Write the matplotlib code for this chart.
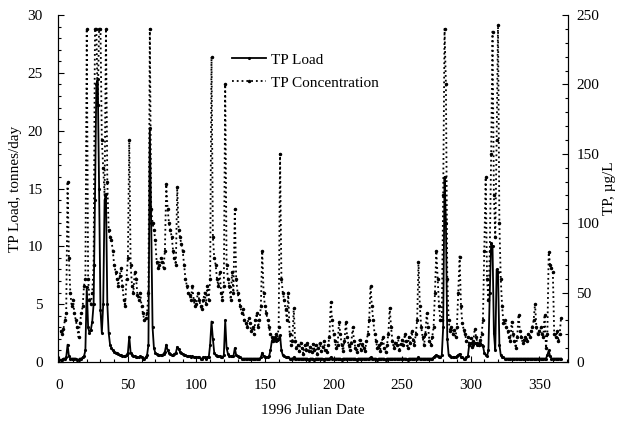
import numpy as np
import matplotlib.pyplot as plt
from matplotlib.ticker import MultipleLocator

plt.rcParams['font.family'] = ['Liberation Serif', 'DejaVu Serif']

# daily TP concentration, ug/L (days 1..366)
tp_conc = [
    22, 20, 24, 30, 35, 130, 75, 50, 40, 45,
    35, 30, 25, 18, 28, 35, 40, 55, 60, 240,
    60, 45, 42, 50, 70, 240, 240, 185, 240, 240,
    160, 140, 120, 240, 130, 95, 90, 88, 80, 70,
    65, 60, 55, 62, 68, 55, 45, 40, 60, 75,
    160, 70, 55, 50, 65, 60, 48, 45, 50, 40,
    35, 30, 32, 35, 50, 240, 110, 100, 95, 88,
    72, 68, 70, 75, 72, 68, 80, 128, 110, 100,
    95, 90, 80, 75, 70, 126, 95, 90, 85, 80,
    70, 60, 55, 50, 48, 45, 55, 45, 40, 42,
    50, 45, 40, 38, 45, 50, 42, 55, 45, 60,
    220, 90, 75, 70, 60, 55, 65, 50, 45, 55,
    200, 70, 60, 55, 45, 65, 50, 110, 60, 50,
    45, 40, 35, 38, 30, 28, 25, 32, 28, 22,
    25, 20, 30, 35, 25, 30, 40, 80, 50, 40,
    35, 30, 25, 20, 18, 15, 18, 20, 16, 25,
    150, 60, 50, 45, 38, 30, 50, 20, 12, 15,
    39, 15, 10, 12, 8, 14, 10, 6, 12, 9,
    14, 8, 11, 7, 13, 9, 12, 6, 10, 14,
    8, 11, 15, 9, 7, 12, 18, 43, 30, 20,
    15, 10, 12, 29, 20, 12, 8, 15, 29, 18,
    12, 9, 14, 25, 15, 10, 7, 12, 16, 9,
    13, 10, 8, 15, 20, 30, 55, 40, 30, 20,
    15, 10, 12, 8, 14, 18, 10, 7, 12, 20,
    39, 25, 15, 10, 14, 12, 18, 9, 13, 16,
    12, 20, 15, 10, 18, 14, 22, 16, 12, 20,
    30, 72, 40, 25, 18, 12, 20, 35, 25, 15,
    12, 18, 25, 50, 80, 60, 40, 30, 30, 120,
    240, 200, 60, 30, 22, 25, 20, 23, 18, 25,
    50, 76, 40, 28, 23, 20, 15, 18, 12, 17,
    11, 15, 24, 18, 14, 12, 16, 20, 30, 80,
    133, 60, 45, 80, 150, 238, 120, 90, 160, 243,
    100, 60, 40, 28, 30, 25, 22, 18, 15, 29,
    20, 15, 10, 18, 34, 22, 18, 14, 16, 18,
    15, 20, 18, 22, 25, 30, 42, 25, 20, 22,
    25, 20, 18, 34, 10, 20, 79, 70, 68, 65,
    20, 18, 22, 15, 20, 32,
]

# daily TP load, tonnes/day (days 1..366)
tp_load = [
    0.2, 0.2, 0.3, 0.3, 0.4, 1.5, 0.5, 0.3, 0.3, 0.3,
    0.3, 0.3, 0.2, 0.2, 0.3, 0.3, 0.4, 0.5, 1.0, 6.5,
    3.0, 2.5, 2.8, 3.5, 5.0, 14.0, 24.0, 24.5, 15.0, 4.5,
    2.5, 5.0, 14.0, 14.5, 5.0, 2.5, 1.5, 1.2, 1.0, 0.9,
    0.8, 0.8, 0.7, 0.6, 0.6, 0.5, 0.5, 0.5, 0.6, 0.8,
    2.2, 0.8, 0.6, 0.5, 0.5, 0.4, 0.4, 0.4, 0.5, 0.4,
    0.3, 0.3, 0.4, 0.6, 1.5, 20.2, 12.0, 3.0, 1.2, 0.8,
    0.7, 0.6, 0.6, 0.6, 0.6, 0.7, 0.9, 1.5, 1.0, 0.8,
    0.7, 0.6, 0.6, 0.7, 0.8, 1.3, 1.1, 0.9, 0.8, 0.7,
    0.6, 0.6, 0.5, 0.5, 0.5, 0.4, 0.5, 0.4, 0.4, 0.4,
    0.4, 0.4, 0.3, 0.3, 0.4, 0.4, 0.3, 0.4, 0.4, 1.5,
    3.5, 2.0, 0.8, 0.6, 0.5, 0.5, 0.5, 0.4, 0.4, 0.6,
    3.6, 1.2, 0.7, 0.5, 0.5, 0.5, 0.5, 1.2, 0.6, 0.5,
    0.4, 0.4, 0.3, 0.3, 0.3, 0.3, 0.3, 0.3, 0.3, 0.3,
    0.3, 0.3, 0.3, 0.3, 0.3, 0.3, 0.4, 0.8, 0.5, 0.4,
    0.4, 0.4, 0.5, 1.0, 1.8, 2.0, 2.0, 1.8, 1.9, 2.0,
    2.3, 1.0, 0.6, 0.5, 0.4, 0.4, 0.4, 0.3, 0.3, 0.3,
    0.4, 0.3, 0.3, 0.3, 0.3, 0.3, 0.3, 0.3, 0.3, 0.3,
    0.3, 0.2, 0.3, 0.3, 0.3, 0.2, 0.3, 0.3, 0.3, 0.3,
    0.3, 0.3, 0.2, 0.3, 0.3, 0.3, 0.3, 0.4, 0.3, 0.3,
    0.3, 0.3, 0.3, 0.3, 0.3, 0.2, 0.3, 0.3, 0.3, 0.3,
    0.3, 0.3, 0.3, 0.3, 0.3, 0.3, 0.2, 0.3, 0.3, 0.3,
    0.3, 0.3, 0.3, 0.3, 0.3, 0.3, 0.4, 0.3, 0.3, 0.3,
    0.3, 0.2, 0.3, 0.3, 0.3, 0.3, 0.3, 0.2, 0.3, 0.3,
    0.3, 0.3, 0.3, 0.3, 0.3, 0.3, 0.3, 0.3, 0.3, 0.3,
    0.3, 0.3, 0.3, 0.2, 0.3, 0.3, 0.3, 0.3, 0.3, 0.3,
    0.3, 0.4, 0.3, 0.3, 0.3, 0.3, 0.3, 0.3, 0.3, 0.3,
    0.3, 0.3, 0.4, 0.5, 0.6, 0.5, 0.4, 0.4, 0.6, 3.0,
    16.0, 12.0, 2.0, 0.6, 0.5, 0.4, 0.4, 0.4, 0.4, 0.5,
    0.6, 0.7, 0.4, 0.4, 0.3, 0.3, 0.4, 0.5, 1.5, 1.6,
    1.6, 1.5, 1.6, 1.6, 1.5, 1.5, 1.6, 1.5, 1.4, 0.8,
    0.6, 0.5, 1.0, 6.0, 10.3, 10.0, 2.5, 1.0, 8.0, 7.8,
    1.5, 0.6, 0.4, 0.4, 0.3, 0.3, 0.3, 0.3, 0.3, 0.3,
    0.3, 0.3, 0.3, 0.3, 0.3, 0.3, 0.3, 0.3, 0.3, 0.3,
    0.3, 0.3, 0.3, 0.3, 0.3, 0.3, 0.3, 0.3, 0.3, 0.3,
    0.3, 0.3, 0.3, 0.3, 0.3, 0.6, 1.0, 0.5, 0.3, 0.3,
    0.3, 0.3, 0.3, 0.3, 0.3, 0.3,
]

days = np.arange(1, len(tp_conc) + 1)

fig = plt.figure(figsize=(6.2, 4.23), dpi=100)
ax = fig.add_axes([0.0935, 0.1442, 0.8225, 0.8203])
ax2 = ax.twinx()

l1, = ax.plot(days[:len(tp_load)], tp_load, '-', color='black', lw=1.3,
              marker='.', markersize=2.5, label='TP Load')
l2, = ax2.plot(days, tp_conc, ':', color='black', lw=1.3,
               marker='.', markersize=3, label='TP Concentration')

ax.set_xlim(-1, 371)
ax.set_ylim(0, 30)
ax2.set_ylim(0, 250)

ax.xaxis.set_major_locator(MultipleLocator(50))
ax.xaxis.set_minor_locator(MultipleLocator(10))
ax.yaxis.set_major_locator(MultipleLocator(5))
ax.yaxis.set_minor_locator(MultipleLocator(1))
ax2.yaxis.set_major_locator(MultipleLocator(50))
ax2.yaxis.set_minor_locator(MultipleLocator(10))

for a in (ax, ax2):
    a.spines['top'].set_visible(False)
    a.tick_params(which='both', direction='in', labelsize=11, width=0.8)
    a.tick_params(which='major', length=4)
    a.tick_params(which='minor', length=2)
ax.tick_params(axis='x', pad=12)
ax.tick_params(axis='y', pad=11)
ax2.tick_params(axis='y', pad=6)

ax.set_xlabel('1996 Julian Date', fontsize=11, labelpad=9)
ax.set_ylabel('TP Load, tonnes/day', fontsize=11, labelpad=4)
ax2.set_ylabel('TP, \u00b5g/L', fontsize=11, labelpad=3)

ax2.legend(handles=[l1, l2], loc='upper left', bbox_to_anchor=(0.315, 0.93),
           frameon=False, fontsize=11, handlelength=2.2, handletextpad=0.3,
           labelspacing=0.6)

fig.savefig('out.png', dpi=100)
